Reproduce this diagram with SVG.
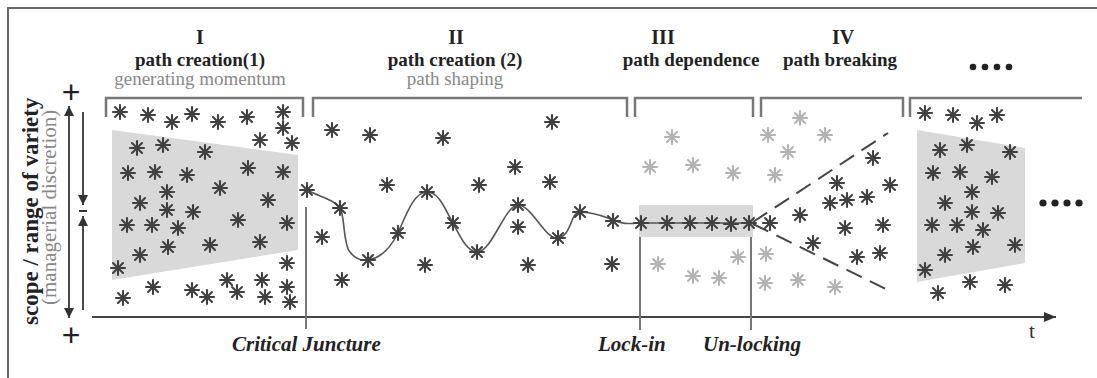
<svg xmlns="http://www.w3.org/2000/svg" xmlns:xlink="http://www.w3.org/1999/xlink" width="1097" height="378" viewBox="0 0 1097 378">
  <style>
    .t { font-family: "Liberation Serif", "Times New Roman", serif; }
    .num { font-size: 20px; font-weight: bold; fill: #222; text-anchor: middle; }
    .head { font-size: 19px; font-weight: bold; fill: #222; text-anchor: middle; }
    .sub { font-size: 19px; fill: #888; text-anchor: middle; }
    .evt { font-size: 21px; font-weight: bold; font-style: italic; fill: #222; }
    .sign { font-family: "Liberation Sans", Arial, sans-serif; font-size: 32px; fill: #222; text-anchor: middle; }
    .brk { fill: none; stroke: #777; stroke-width: 2.5; }
    .vln { stroke: #777; stroke-width: 2; }
    .dk { stroke: #404040; }
    .lt { stroke: #b3b3b3; }
    .shade { fill: #d9d9d9; }
  </style>
  <defs>
    <!-- eight-armed asterisk used as the scatter marker -->
    <g id="ast" stroke-width="2.1" stroke-linecap="round">
      <line x1="0" y1="-7" x2="0" y2="7"/>
      <line x1="-7" y1="0" x2="7" y2="0"/>
      <line x1="-5" y1="-5" x2="5" y2="5"/>
      <line x1="-5" y1="5" x2="5" y2="-5"/>
    </g>
    <marker id="arr" viewBox="0 0 10 10" refX="10" refY="5" markerWidth="10" markerHeight="10" markerUnits="userSpaceOnUse" orient="auto">
      <path d="M0,0 L10,5 L0,10 Z" fill="#333"/>
    </marker>
    <marker id="arrX" viewBox="0 0 12 10" refX="12" refY="5" markerWidth="12" markerHeight="10" markerUnits="userSpaceOnUse" orient="auto">
      <path d="M0,0 L12,5 L0,10 Z" fill="#333"/>
    </marker>
  </defs>

  <rect width="1097" height="378" fill="#fff"/>
  <!-- frame -->
  <path d="M8,390 V8 H1100" fill="none" stroke="#666" stroke-width="2"/>

  <!-- phase headings -->
  <g id="heading-1">
    <text class="t num" x="200" y="44">I</text>
    <text class="t head" x="200" y="66">path creation(1)</text>
    <text class="t sub" x="200" y="85">generating momentum</text>
  </g>
  <g id="heading-2">
    <text class="t num" x="456" y="44">II</text>
    <text class="t head" x="455" y="66">path creation (2)</text>
    <text class="t sub" x="455" y="85">path shaping</text>
  </g>
  <g id="heading-3">
    <text class="t num" x="663" y="44">III</text>
    <text class="t head" x="691" y="66">path dependence</text>
  </g>
  <g id="heading-4">
    <text class="t num" x="843" y="44">IV</text>
    <text class="t head" x="840" y="66">path breaking</text>
  </g>
  <g id="heading-5" fill="#222">
    <circle cx="973" cy="67" r="3.3"/>
    <circle cx="985" cy="67" r="3.3"/>
    <circle cx="997" cy="67" r="3.3"/>
    <circle cx="1009" cy="67" r="3.3"/>
  </g>

  <!-- phase brackets -->
  <g id="brackets">
    <path class="brk" d="M106,117 V98 H303 V117"/>
    <path class="brk" d="M313,117 V98 H627 V117"/>
    <path class="brk" d="M635,117 V98 H753 V117"/>
    <path class="brk" d="M761,117 V98 H903 V117"/>
    <path class="brk" d="M910,117 V98 H1082"/>
  </g>

  <!-- vertical axis -->
  <g id="y-axis">
    <text class="sign" x="71" y="103">+</text>
    <text class="sign" x="71" y="346">+</text>
    <line x1="69" y1="200" x2="69" y2="106" stroke="#333" stroke-width="1.8" marker-end="url(#arr)"/>
    <line x1="69" y1="200" x2="69" y2="318" stroke="#333" stroke-width="1.8" marker-end="url(#arr)"/>
    <line x1="83" y1="112" x2="83" y2="205" stroke="#333" stroke-width="1.8" marker-end="url(#arr)"/>
    <line x1="83" y1="310" x2="83" y2="216" stroke="#333" stroke-width="1.8" marker-end="url(#arr)"/>
    <line x1="79" y1="211" x2="87" y2="211" stroke="#333" stroke-width="2"/>
    <text class="t" transform="translate(38,325) rotate(-90)" font-size="23" font-weight="bold" fill="#222">scope / range of variety</text>
    <text class="t" transform="translate(56,305) rotate(-90)" font-size="21" fill="#888">(managerial discretion)</text>
  </g>

  <!-- time axis -->
  <g id="x-axis">
    <line x1="92" y1="317" x2="1056" y2="317" stroke="#444" stroke-width="2" marker-end="url(#arrX)"/>
    <text class="t" x="1032" y="338" font-size="21" fill="#333" text-anchor="middle">t</text>
  </g>

  <!-- shaded ranges -->
  <polygon class="shade" points="112,130 298,155 298,250 112,280"/>
  <rect class="shade" x="639" y="205" width="114" height="32"/>
  <polygon class="shade" points="917,130 1025,148 1025,263 917,282"/>

  <!-- event markers -->
  <g id="critical-juncture">
    <line class="vln" x1="306" y1="207" x2="306" y2="329"/>
    <text class="t evt" x="232" y="351">Critical Juncture</text>
  </g>
  <g id="lock-in">
    <line class="vln" x1="640" y1="237" x2="640" y2="330"/>
    <text class="t evt" x="598" y="351">Lock-in</text>
  </g>
  <g id="un-locking">
    <line class="vln" x1="751" y1="237" x2="751" y2="330"/>
    <text class="t evt" x="703" y="351">Un-locking</text>
  </g>

  <!-- connectors: the path and the diverging break-out -->
  <g id="connectors" fill="none">
    <path d="M307,190 C320,197 335,200 340,208 C345,215 343,245 350,252 C356,260 362,261 368,260 C382,258 392,245 398,233 C406,215 414,192 427,192 C440,192 446,212 453,223 C460,236 467,252 477,252 C492,252 505,205 518,205 C532,205 545,240 558,238 C572,236 570,212 580,212 C595,212 605,217 613,220 C622,224 628,224 637,223 L753,223" stroke="#555" stroke-width="1.6"/>
    <path d="M753,222 L888,133" stroke="#444" stroke-width="2" stroke-dasharray="17 9"/>
    <path d="M753,224 L890,291" stroke="#444" stroke-width="2" stroke-dasharray="17 9"/>
  </g>

  <!-- phase I -->
  <g id="phase-1" class="dk">
    <use href="#ast" x="120" y="112"/><use href="#ast" x="148" y="115"/><use href="#ast" x="172" y="122"/>
    <use href="#ast" x="192" y="114"/><use href="#ast" x="218" y="122"/><use href="#ast" x="247" y="117"/>
    <use href="#ast" x="283" y="112"/><use href="#ast" x="283" y="128"/><use href="#ast" x="292" y="143"/>
    <use href="#ast" x="260" y="140"/>
    <use href="#ast" x="137" y="148"/><use href="#ast" x="163" y="145"/><use href="#ast" x="205" y="152"/>
    <use href="#ast" x="128" y="173"/><use href="#ast" x="155" y="172"/><use href="#ast" x="187" y="175"/>
    <use href="#ast" x="248" y="168"/><use href="#ast" x="283" y="172"/><use href="#ast" x="167" y="192"/>
    <use href="#ast" x="220" y="188"/><use href="#ast" x="140" y="203"/><use href="#ast" x="167" y="210"/>
    <use href="#ast" x="193" y="212"/><use href="#ast" x="268" y="200"/><use href="#ast" x="127" y="225"/>
    <use href="#ast" x="152" y="225"/><use href="#ast" x="178" y="228"/><use href="#ast" x="238" y="220"/>
    <use href="#ast" x="287" y="223"/><use href="#ast" x="168" y="247"/><use href="#ast" x="210" y="245"/>
    <use href="#ast" x="260" y="242"/><use href="#ast" x="140" y="255"/><use href="#ast" x="118" y="268"/>
    <use href="#ast" x="287" y="263"/><use href="#ast" x="153" y="287"/><use href="#ast" x="123" y="298"/>
    <use href="#ast" x="192" y="290"/><use href="#ast" x="207" y="297"/><use href="#ast" x="227" y="280"/>
    <use href="#ast" x="237" y="292"/><use href="#ast" x="262" y="280"/><use href="#ast" x="265" y="297"/>
    <use href="#ast" x="287" y="287"/><use href="#ast" x="290" y="302"/>
  </g>

  <!-- phase II -->
  <g id="phase-2" class="dk">
    <use href="#ast" x="307" y="190"/><use href="#ast" x="332" y="130"/><use href="#ast" x="370" y="135"/>
    <use href="#ast" x="443" y="138"/><use href="#ast" x="387" y="185"/><use href="#ast" x="340" y="208"/>
    <use href="#ast" x="322" y="237"/><use href="#ast" x="368" y="260"/><use href="#ast" x="342" y="280"/>
    <use href="#ast" x="398" y="233"/><use href="#ast" x="427" y="192"/><use href="#ast" x="453" y="223"/>
    <use href="#ast" x="425" y="265"/><use href="#ast" x="477" y="252"/><use href="#ast" x="479" y="185"/>
    <use href="#ast" x="552" y="122"/><use href="#ast" x="515" y="167"/><use href="#ast" x="550" y="182"/>
    <use href="#ast" x="518" y="205"/><use href="#ast" x="518" y="227"/><use href="#ast" x="558" y="238"/>
    <use href="#ast" x="580" y="212"/><use href="#ast" x="613" y="221"/><use href="#ast" x="528" y="265"/>
    <use href="#ast" x="612" y="264"/>
  </g>

  <!-- phase III -->
  <g id="phase-3">
    <g class="dk">
      <use href="#ast" x="641" y="223"/><use href="#ast" x="667" y="223"/><use href="#ast" x="690" y="223"/>
      <use href="#ast" x="712" y="223"/><use href="#ast" x="731" y="224"/><use href="#ast" x="749" y="223"/>
    </g>
    <g class="lt">
      <use href="#ast" x="672" y="137"/><use href="#ast" x="650" y="167"/><use href="#ast" x="693" y="165"/>
      <use href="#ast" x="733" y="173"/><use href="#ast" x="658" y="264"/><use href="#ast" x="693" y="276"/>
      <use href="#ast" x="719" y="278"/><use href="#ast" x="738" y="257"/>
    </g>
  </g>

  <!-- phase IV -->
  <g id="phase-4">
    <g class="lt">
      <use href="#ast" x="800" y="118"/><use href="#ast" x="768" y="135"/><use href="#ast" x="825" y="135"/>
      <use href="#ast" x="788" y="152"/><use href="#ast" x="775" y="175"/><use href="#ast" x="766" y="254"/>
      <use href="#ast" x="765" y="283"/><use href="#ast" x="798" y="280"/><use href="#ast" x="835" y="287"/>
    </g>
    <g class="dk">
      <use href="#ast" x="873" y="158"/><use href="#ast" x="837" y="183"/><use href="#ast" x="890" y="185"/>
      <use href="#ast" x="830" y="203"/><use href="#ast" x="847" y="200"/><use href="#ast" x="867" y="197"/>
      <use href="#ast" x="800" y="215"/><use href="#ast" x="770" y="223"/><use href="#ast" x="845" y="228"/>
      <use href="#ast" x="883" y="225"/><use href="#ast" x="813" y="243"/><use href="#ast" x="857" y="257"/>
      <use href="#ast" x="880" y="253"/>
    </g>
  </g>

  <!-- next cycle -->
  <g id="phase-5" class="dk">
    <use href="#ast" x="925" y="113"/><use href="#ast" x="953" y="115"/><use href="#ast" x="977" y="123"/>
    <use href="#ast" x="997" y="115"/>
    <use href="#ast" x="940" y="150"/><use href="#ast" x="967" y="145"/><use href="#ast" x="1010" y="152"/>
    <use href="#ast" x="933" y="173"/><use href="#ast" x="960" y="172"/><use href="#ast" x="992" y="177"/>
    <use href="#ast" x="972" y="192"/><use href="#ast" x="945" y="203"/><use href="#ast" x="972" y="212"/>
    <use href="#ast" x="998" y="213"/><use href="#ast" x="932" y="225"/><use href="#ast" x="957" y="225"/>
    <use href="#ast" x="983" y="230"/><use href="#ast" x="973" y="247"/><use href="#ast" x="1015" y="245"/>
    <use href="#ast" x="945" y="255"/><use href="#ast" x="925" y="270"/>
    <use href="#ast" x="970" y="282"/><use href="#ast" x="1005" y="285"/><use href="#ast" x="938" y="293"/>
  </g>
  <g id="continuation" fill="#222">
    <circle cx="1043" cy="203" r="3.6"/>
    <circle cx="1055" cy="203" r="3.6"/>
    <circle cx="1067" cy="203" r="3.6"/>
    <circle cx="1079" cy="203" r="3.6"/>
  </g>
</svg>
